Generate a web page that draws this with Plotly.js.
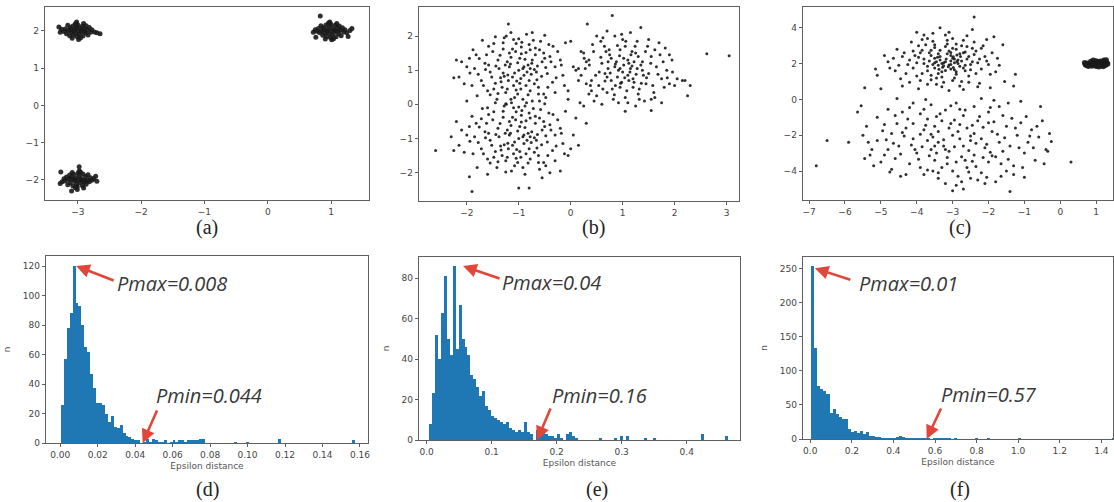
<!DOCTYPE html>
<html><head><meta charset="utf-8">
<script src="https://cdn.plot.ly/plotly-3.0.1.min.js"></script>
<style>html,body{margin:0;padding:0;background:#fff}#chart{width:1114px;height:502px}</style>
</head><body><div id="chart"></div>
<script>
// ---------- (a) three tight clusters ----------
const aCluster1 = [[-3.00,2.00],[-3.05,2.04],[-2.95,1.97],[-3.10,1.95],[-2.90,2.06],[-3.02,2.10],[-2.98,1.90],[-3.12,2.08],[-2.88,1.94],[-3.07,1.88],[-2.93,2.12],[-3.15,2.01],[-2.85,2.02],[-3.03,1.93],[-2.97,2.07],[-3.08,2.13],[-2.92,1.86],[-3.18,1.92],[-2.82,2.09],[-3.00,2.16],[-3.01,1.84],[-3.20,2.05],[-2.80,1.96],[-3.13,1.87],[-2.87,2.14],[-3.06,1.99],[-2.94,2.01],[-3.22,1.98],[-2.78,2.03],[-3.04,2.19],[-2.96,1.81],[-3.16,2.15],[-2.84,1.89],[-3.26,2.04],[-2.74,1.97],[-3.09,1.80],[-2.91,2.20],[-2.70,1.95],[-3.28,1.96],[-3.02,2.24],[-2.99,1.77],[-3.11,2.02],[-2.89,1.99],[-2.65,1.92],[-3.30,2.10]];
const aCluster2 = [[1.00,2.00],[0.95,2.05],[1.05,1.96],[0.90,1.94],[1.10,2.07],[0.98,2.12],[1.02,1.88],[0.88,2.09],[1.12,1.92],[0.93,1.85],[1.07,2.15],[0.85,2.00],[1.15,2.02],[0.97,1.93],[1.03,2.06],[0.92,2.16],[1.08,1.84],[0.82,1.95],[1.18,2.08],[1.00,2.18],[0.99,1.82],[0.80,2.06],[1.20,1.97],[0.87,1.88],[1.13,2.13],[0.94,1.99],[1.06,2.01],[0.78,1.99],[1.22,2.03],[0.96,2.21],[1.04,1.79],[0.84,2.14],[1.16,1.87],[0.75,2.03],[1.25,1.95],[0.91,1.78],[1.09,2.20],[1.30,2.01],[0.72,1.96],[0.98,2.24],[1.01,1.76],[0.89,2.02],[1.11,1.99],[1.27,1.85],[0.83,2.40],[1.33,2.06],[0.76,1.83]];
const aCluster3 = [[-3.00,-2.00],[-2.95,-1.96],[-3.05,-2.04],[-2.90,-2.06],[-3.10,-1.93],[-2.98,-1.88],[-3.02,-2.12],[-2.88,-1.91],[-3.12,-2.08],[-2.93,-2.15],[-3.07,-1.85],[-2.85,-2.00],[-3.15,-1.98],[-2.97,-2.07],[-3.03,-1.94],[-2.92,-1.84],[-3.08,-2.16],[-2.82,-2.05],[-3.18,-1.92],[-3.00,-1.82],[-3.01,-2.18],[-2.80,-1.94],[-3.20,-2.03],[-2.87,-2.12],[-3.13,-1.87],[-2.94,-2.01],[-3.06,-1.99],[-2.78,-2.01],[-3.22,-1.97],[-2.96,-1.79],[-3.04,-2.21],[-2.84,-1.86],[-3.16,-2.13],[-2.75,-1.97],[-3.25,-2.05],[-2.91,-2.22],[-3.09,-1.80],[-2.70,-2.04],[-3.28,-2.10],[-2.98,-1.76],[-3.01,-2.26],[-3.11,-1.98],[-2.89,-2.01],[-3.27,-1.79],[-2.98,-1.65],[-3.10,-2.30],[-2.72,-1.90]];

// ---------- (b) three overlapping clusters ----------
const bCluster1 = [[-1.00,1.00],[-0.82,1.15],[-1.21,0.86],[-0.65,0.72],[-1.40,1.30],[-0.95,1.48],[-1.10,0.55],[-0.55,1.25],[-1.55,0.95],[-0.78,0.40],[-1.30,1.62],[-0.90,0.85],[-1.18,1.10],[-0.70,1.02],[-1.45,0.62],[-0.60,1.60],[-1.05,1.78],[-1.65,1.20],[-0.45,0.90],[-1.25,0.35],[-0.88,1.32],[-1.35,0.78],[-0.72,1.88],[-1.72,0.70],[-0.40,1.40],[-1.08,0.20],[-1.50,1.55],[-0.98,0.62],[-0.62,0.50],[-1.28,1.95],[-1.85,1.05],[-0.30,1.10],[-0.85,2.05],[-1.60,0.40],[-1.15,1.38],[-0.52,0.30],[-1.95,1.35],[-0.80,0.70],[-1.38,1.05],[-1.02,1.22],[-0.68,1.45],[-1.20,0.70],[-0.92,0.15],[-1.48,1.78],[-0.35,0.65],[-1.78,0.88],[-1.12,1.62],[-0.58,1.85],[-2.05,0.60],[-0.25,1.55],[-1.32,0.50],[-0.75,1.20],[-1.62,1.45],[-0.48,0.20],[-1.05,0.42],[-0.95,1.68],[-1.88,1.60],[-0.15,0.85],[-1.42,0.15],[-0.66,0.95],[-2.10,1.25],[-1.22,1.25],[-0.86,0.55],[-1.55,0.28],[-0.42,1.75],[-1.00,1.92],[-1.70,1.88],[-0.20,1.30],[-1.25,0.02],[-0.78,1.60],[-2.15,0.80],[-0.60,0.10],[-1.15,2.10],[-1.80,0.25],[0.05,1.10],[-0.50,2.02],[-1.45,1.98],[-2.20,1.30],[-0.30,0.35],[-1.90,0.55],[0.15,0.70],[-0.10,1.80],[-1.60,-0.10],[-0.88,-0.05],[-2.25,0.78],[-1.20,2.35],[-0.05,0.40],[-0.92,1.05],[-1.08,0.92],[-0.84,0.95],[-1.16,1.18],[-0.74,1.30],[-1.30,0.92],[-0.96,0.76]];
const bCluster1More = [[-0.90,1.10],[-1.12,0.80],[-0.76,0.88],[-1.26,1.15],[-0.98,1.35],[-1.04,0.68],[-0.64,1.12],[-1.34,0.66],[-0.86,1.52],[-1.44,1.12],[-0.56,0.82],[-1.18,1.50],[-0.70,0.60],[-1.52,0.80],[-0.82,0.28],[-1.36,1.44],[-0.48,1.08],[-1.10,1.90],[-1.64,1.02],[-0.38,1.25],[-1.22,0.45],[-0.94,1.82],[-1.76,1.34],[-0.52,1.50],[-1.40,0.32],[-0.74,2.10],[-1.58,1.70],[-0.28,0.78],[-1.94,0.92],[-0.62,0.30],[-1.02,0.30],[-1.30,1.80],[-0.44,0.50],[-1.68,0.55],[-0.34,1.70],[-1.14,0.05],[-0.80,1.75],[-1.82,1.45],[-0.18,1.15],[-1.48,0.45],[-0.68,1.65],[-2.00,1.10],[-0.12,0.55],[-1.24,2.00],[-0.96,0.45],[-1.58,1.15],[-0.50,1.35],[-1.06,1.55],[-0.78,1.05],[-1.28,0.82]];
const bCluster2 = [[1.00,0.95],[0.85,1.10],[1.20,0.75],[0.70,0.80],[1.35,1.15],[0.95,0.50],[1.10,1.30],[0.60,1.20],[1.50,0.90],[0.80,0.45],[1.25,1.50],[0.90,0.80],[1.15,1.05],[0.55,0.95],[1.45,0.60],[0.75,1.45],[1.05,1.70],[1.65,1.10],[0.40,0.70],[1.30,0.30],[0.88,1.25],[1.40,0.85],[0.65,1.70],[1.75,0.75],[0.35,1.30],[1.05,0.20],[1.55,1.40],[0.98,0.65],[0.62,0.45],[1.28,1.85],[1.85,1.00],[0.28,1.05],[0.85,2.00],[1.60,0.35],[1.12,1.20],[0.50,0.25],[1.95,1.30],[0.78,0.70],[1.38,1.00],[1.02,1.15],[0.68,1.55],[1.22,0.65],[0.92,0.05],[1.48,1.70],[0.38,0.55],[1.80,0.50],[1.18,1.55],[0.58,1.85],[2.05,0.75],[0.25,1.50],[1.32,0.45],[0.72,1.05],[1.62,1.60],[0.45,0.10],[1.08,0.40],[0.95,1.60],[1.90,1.45],[0.20,0.85],[1.42,0.10],[0.66,0.90],[2.15,0.70],[1.22,1.25],[0.86,0.55],[1.55,0.15],[0.42,1.75],[1.00,1.90],[1.70,1.80],[0.30,1.25],[1.25,-0.05],[0.78,1.35],[2.25,0.25],[0.60,0.00],[1.15,2.10],[1.75,0.05],[0.15,1.05],[0.50,2.00],[1.35,2.25],[2.20,0.70],[0.35,0.30],[1.90,0.60],[0.80,2.60],[1.05,-0.20],[1.55,-0.18],[0.70,2.15],[1.30,1.40],[0.95,1.05],[1.10,0.85],[0.00,1.85],[0.20,1.55],[0.10,1.00],[0.32,2.35],[-0.05,0.15],[0.18,0.05],[0.30,-0.55],[0.25,-0.05],[2.62,1.48],[3.05,1.42],[2.30,0.55]];
const bCluster2More = [[0.92,1.00],[1.12,0.70],[0.76,0.92],[1.28,1.05],[1.02,1.35],[0.96,0.62],[1.38,1.25],[0.66,0.68],[1.16,1.45],[0.84,0.28],[1.46,0.78],[0.58,1.38],[1.20,0.50],[0.74,1.60],[1.54,1.20],[0.48,0.85],[1.06,1.85],[1.68,0.88],[0.36,1.15],[1.32,0.15],[0.90,1.72],[1.58,0.55],[0.54,0.55],[1.24,1.70],[1.78,1.25],[0.44,1.55],[1.10,0.05],[1.72,1.45],[0.30,0.60],[1.44,1.55],[0.82,0.15],[1.86,0.78],[0.62,1.95],[1.36,0.62],[1.96,0.95],[0.26,1.35],[1.50,1.90],[0.70,0.35],[1.62,0.20],[0.98,2.05],[1.82,1.65],[0.40,0.40],[2.00,0.55],[1.14,0.95],[0.86,1.18],[1.26,0.88],[0.72,1.25],[1.04,0.78],[0.94,1.42],[1.18,1.12]];
const bCluster3 = [[-1.00,-1.00],[-0.82,-0.85],[-1.21,-1.14],[-0.65,-1.28],[-1.40,-0.70],[-0.95,-0.52],[-1.10,-1.45],[-0.55,-0.75],[-1.55,-1.05],[-0.78,-1.60],[-1.30,-0.38],[-0.90,-1.15],[-1.18,-0.90],[-0.70,-0.98],[-1.45,-1.38],[-0.60,-0.40],[-1.05,-0.22],[-1.65,-0.80],[-0.45,-1.10],[-1.25,-1.65],[-0.88,-0.68],[-1.35,-1.22],[-0.72,-0.12],[-1.72,-1.30],[-0.40,-0.60],[-1.08,-1.80],[-1.50,-0.45],[-0.98,-1.38],[-0.62,-1.50],[-1.28,-0.05],[-1.85,-0.95],[-0.30,-0.90],[-0.85,0.05],[-1.60,-1.60],[-1.15,-0.62],[-0.52,-1.70],[-1.95,-0.65],[-0.80,-1.30],[-1.38,-0.95],[-1.02,-0.78],[-0.68,-0.55],[-1.20,-1.30],[-0.92,-1.85],[-1.48,-0.22],[-0.35,-1.35],[-1.78,-1.12],[-1.12,-0.38],[-0.58,-0.15],[-2.05,-1.40],[-0.25,-0.45],[-1.32,-1.50],[-0.75,-0.80],[-1.62,-0.55],[-0.48,-1.80],[-1.05,-1.58],[-0.95,-0.32],[-1.88,-1.45],[-0.15,-1.15],[-1.42,-1.85],[-0.66,-1.05],[-2.10,-0.75],[-1.22,-0.75],[-0.86,-1.45],[-1.55,-1.72],[-0.42,-0.25],[-1.00,-0.08],[-1.70,-0.12],[-0.20,-0.70],[-1.25,-1.98],[-0.78,-0.40],[-2.15,-1.20],[-0.60,-1.90],[-1.15,0.15],[-1.80,-1.85],[0.05,-0.90],[-0.50,0.02],[-1.45,0.05],[-2.20,-0.50],[-0.30,-1.65],[-1.90,-0.35],[0.15,-1.20],[-0.10,-0.20],[-1.60,-2.05],[-0.88,-2.05],[-2.25,-1.35],[-1.95,-2.12],[-0.05,-1.50],[-1.00,-2.45],[-0.80,-2.45],[-1.90,-2.55],[-2.60,-1.35],[-2.30,-0.95],[-0.55,-2.15],[0.10,-0.40],[-1.72,-0.42],[-2.00,0.10],[-0.92,-0.95],[-1.08,-1.10],[-0.84,-1.05],[-1.16,-0.85]];
const bCluster3More = [[-0.90,-0.90],[-1.12,-1.20],[-0.76,-1.12],[-1.26,-0.85],[-0.98,-0.65],[-1.04,-1.32],[-0.64,-0.88],[-1.34,-1.34],[-0.86,-0.48],[-1.44,-0.88],[-0.56,-1.18],[-1.18,-0.50],[-0.70,-1.40],[-1.52,-1.20],[-0.82,-1.72],[-1.36,-0.56],[-0.48,-0.92],[-1.10,-0.10],[-1.64,-0.98],[-0.38,-0.75],[-1.22,-1.55],[-0.94,-0.18],[-1.76,-0.66],[-0.52,-0.50],[-1.40,-1.68],[-0.74,0.10],[-1.58,-0.30],[-0.28,-1.22],[-1.94,-1.08],[-0.62,-1.70],[-1.02,-1.70],[-1.30,-0.20],[-0.44,-1.50],[-1.68,-1.45],[-0.34,-0.30],[-1.14,-1.95],[-0.80,-0.25],[-1.82,-0.55],[-0.18,-0.85],[-1.48,-1.55],[-0.68,-0.35],[-2.00,-0.90],[-0.12,-1.45],[-1.24,0.00],[-0.96,-1.55],[-1.58,-0.85],[-0.50,-0.65],[-1.06,-0.45],[-0.78,-0.95],[-1.28,-1.18],[-0.20,-1.95],[0.00,-1.30],[-0.40,-2.00]];

// ---------- (c) sparse clouds + tight blob ----------
const cUpper = [[-3.20,2.10],[-3.00,2.30],[-3.40,1.90],[-2.80,1.85],[-3.60,2.45],[-3.10,2.70],[-3.30,1.55],[-2.60,2.25],[-3.80,2.00],[-2.90,1.40],[-3.50,2.90],[-3.05,1.95],[-3.35,2.20],[-2.70,2.60],[-3.70,1.60],[-2.50,1.95],[-3.15,3.10],[-3.95,2.35],[-2.40,2.50],[-3.45,1.20],[-2.95,2.05],[-3.65,2.15],[-2.75,3.00],[-4.10,1.75],[-2.30,2.05],[-3.25,0.95],[-3.85,2.75],[-3.05,2.45],[-2.65,1.60],[-3.55,3.25],[-4.20,2.20],[-2.20,1.70],[-3.00,3.40],[-4.00,1.30],[-3.30,2.00],[-2.55,1.30],[-4.35,2.60],[-2.85,2.20],[-3.50,1.75],[-3.12,1.82],[-2.90,2.80],[-3.42,2.35],[-3.00,1.05],[-3.75,3.05],[-2.45,2.85],[-4.05,2.45],[-3.40,2.55],[-2.70,3.30],[-4.50,1.90],[-2.10,2.40],[-3.60,1.35],[-2.95,1.65],[-3.90,1.05],[-2.35,1.45],[-3.20,3.60],[-4.30,1.45],[-2.60,3.55],[-3.85,3.35],[-2.15,3.00],[-3.30,0.70],[-4.55,2.80],[-2.00,1.95],[-3.70,0.85],[-2.80,0.75],[-4.65,2.30],[-1.90,2.60],[-3.10,0.50],[-4.75,1.75],[-2.25,0.90],[-3.55,3.70],[-2.45,3.90],[-4.15,3.20],[-1.80,1.55],[-4.45,1.15],[-2.05,3.35],[-3.95,0.60],[-2.40,4.60],[-1.75,2.30],[-5.15,1.70],[-4.90,2.45],[-1.55,1.00],[-5.10,1.35],[-1.95,0.65],[-4.40,0.75],[-1.60,3.05],[-2.70,0.55],[-3.35,4.00],[-3.50,2.05],[-3.25,1.88],[-2.88,2.12],[-3.18,2.25],[-2.98,1.78],[-3.05,2.62],[-3.38,1.68],[-2.78,2.40],[-1.25,1.40],[-1.30,0.75],[-5.45,0.65],[-5.00,0.60],[-2.55,0.95],[-1.85,3.50],[-4.00,3.75],[-3.80,3.60],[-2.90,3.10]];
const cUpperMore = [[-3.25,2.05],[-3.10,1.92],[-2.95,2.25],[-3.45,2.10],[-2.85,2.00],[-3.35,2.40],[-3.05,1.70],[-2.75,2.15],[-3.55,1.95],[-3.15,2.55],[-2.65,1.90],[-3.65,2.60],[-2.90,1.55],[-3.40,1.45],[-2.55,2.40],[-3.80,2.25],[-3.00,2.85],[-2.45,2.10],[-3.70,1.85],[-3.20,2.95],[-2.35,2.70],[-3.90,2.60],[-2.80,2.55],[-3.50,3.05],[-2.60,2.95],[-4.00,2.05],[-3.30,1.25],[-2.25,2.25],[-4.10,2.70],[-2.95,1.20],[-3.60,1.10],[-2.50,1.65],[-3.85,1.45],[-2.20,2.85],[-4.25,1.95],[-3.15,3.30],[-2.40,3.20],[-3.95,3.00],[-2.05,2.15],[-4.40,2.40],[-3.45,0.85],[-2.75,1.00],[-3.70,3.40],[-1.95,1.40],[-4.60,1.60],[-2.30,0.70],[-3.10,3.75],[-4.20,0.95],[-1.70,1.90],[-4.80,2.10],[-3.35,2.75],[-2.65,2.65],[-3.05,2.15],[-3.28,1.80],[-2.88,2.48],[-3.50,2.30],[-2.70,1.75],[-3.20,1.62],[-2.98,2.38],[-3.60,2.75]];
const cLower = [[-3.00,-2.00],[-2.60,-1.60],[-3.40,-2.40],[-2.20,-2.20],[-3.80,-1.70],[-3.10,-2.90],[-2.70,-0.90],[-3.60,-2.80],[-2.40,-3.10],[-3.30,-1.20],[-1.90,-1.80],[-4.10,-2.20],[-2.90,-3.50],[-3.70,-1.10],[-2.10,-2.70],[-4.30,-1.60],[-2.50,-2.30],[-3.20,-0.60],[-1.70,-2.40],[-4.00,-3.00],[-2.80,-1.40],[-3.50,-3.40],[-2.30,-1.20],[-4.50,-2.60],[-1.50,-1.50],[-3.90,-0.80],[-2.60,-3.80],[-3.40,-1.80],[-1.80,-3.20],[-4.70,-1.90],[-2.00,-0.70],[-3.00,-4.00],[-4.20,-3.60],[-1.40,-2.60],[-3.60,-0.30],[-2.70,-2.60],[-4.80,-2.80],[-1.60,-0.90],[-3.30,-3.80],[-2.20,-4.10],[-4.40,-0.70],[-1.20,-2.00],[-3.80,-4.20],[-2.90,-0.20],[-4.90,-1.40],[-1.00,-3.00],[-3.50,-1.50],[-2.40,-0.40],[-5.10,-2.30],[-1.30,-3.70],[-3.70,-2.30],[-2.00,-3.50],[-4.60,-3.30],[-1.10,-1.30],[-3.20,-4.70],[-2.50,-4.40],[-5.30,-3.10],[-0.90,-2.40],[-4.10,-0.20],[-1.80,-4.60],[-5.50,-2.00],[-0.80,-1.70],[-3.90,-3.80],[-2.70,-5.00],[-5.20,-3.70],[-0.70,-3.40],[-4.60,-0.90],[-1.50,-4.00],[-5.40,-1.50],[-0.60,-2.10],[-3.40,-4.40],[-2.10,-4.70],[-4.70,-3.90],[-1.30,-4.20],[-5.00,-3.50],[-0.50,-1.20],[-4.30,-4.20],[-1.70,-0.40],[-5.10,-1.00],[-0.40,-2.80],[-3.10,-1.60],[-2.80,-2.20],[-3.50,-2.60],[-2.40,-1.90],[-3.75,-1.45],[-2.55,-2.85],[-3.25,-2.25],[-2.15,-1.55],[-4.15,-2.55],[-1.95,-2.95],[-3.85,-2.65],[-2.75,-3.20],[-3.15,-3.25],[-2.35,-2.45],[-4.35,-2.05],[-1.85,-1.25],[-3.65,-3.15],[-2.95,-1.15],[-4.55,-1.35],[-1.55,-2.15],[-3.45,-0.95],[-2.65,-0.60],[-4.85,-2.25],[-1.25,-1.60],[-2.85,-4.30],[-3.95,-3.35],[-1.65,-3.60],[-4.25,-1.10],[-0.95,-0.95],[-3.05,-0.35],[-5.65,-0.70],[-0.55,-0.40],[-1.10,-0.10],[-4.80,-0.55],[-2.20,0.05],[-3.75,0.00],[-1.45,-0.20],[-0.30,-1.90],[-0.45,-3.60],[-1.40,-5.15],[-2.05,-4.35],[-3.55,-4.00],[-4.45,-4.30],[-2.90,-4.80],[-1.05,-3.80],[-4.90,-3.10],[-5.25,-2.80],[-0.75,-2.70],[-2.45,-3.45],[-1.90,-3.15],[-6.80,-3.70],[-6.50,-2.30],[-5.90,-2.40],[0.30,-3.50],[-0.35,-2.90],[-5.55,-0.35]];
const cLowerMore = [[-2.85,-1.80],[-3.25,-2.60],[-2.45,-1.45],[-3.55,-2.10],[-2.05,-2.50],[-3.90,-1.95],[-2.65,-3.40],[-3.35,-0.80],[-2.25,-0.95],[-4.05,-2.80],[-1.75,-1.95],[-3.15,-3.60],[-2.55,-4.05],[-4.40,-1.85],[-1.60,-2.90],[-3.70,-3.95],[-2.95,-2.65],[-4.20,-0.45],[-1.35,-1.05],[-2.35,-3.75],[-3.45,-3.00],[-1.95,-0.45],[-4.65,-2.45],[-1.15,-2.70],[-3.80,-0.55],[-2.75,-4.60],[-4.95,-1.75],[-0.85,-2.05],[-3.05,-1.35],[-2.15,-3.25],[-4.45,-3.05],[-1.45,-3.35],[-3.60,-1.95],[-2.50,-2.05],[-3.20,-2.80],[-2.00,-1.30],[-4.10,-1.35],[-1.65,-4.30],[-3.40,-4.10],[-2.80,-0.55],[-5.35,-2.40],[-0.65,-1.50],[-4.75,-4.05],[-2.30,-4.50],[-1.00,-4.35],[-3.00,-5.10],[-0.25,-2.35],[-5.45,-3.30],[-1.85,-0.05],[-4.55,0.05]];
const cBlob = [[1.00,2.00],[0.90,2.05],[1.10,1.95],[0.80,1.98],[1.20,2.03],[0.95,1.90],[1.05,2.10],[0.85,2.12],[1.15,1.88],[0.75,2.02],[1.25,1.96],[1.00,2.15],[1.00,1.85],[0.70,1.95],[1.30,2.05],[0.88,1.87],[1.12,2.13],[0.93,2.08],[1.07,1.93],[0.82,1.92],[1.18,2.10],[0.97,1.97],[1.03,2.03],[0.68,2.05],[1.32,1.98],[1.22,2.18],[1.28,2.20],[0.78,1.85],[1.20,1.84],[0.92,2.18],[1.08,1.82],[0.86,2.00],[1.14,2.00],[0.72,1.90],[1.26,1.90]];

// ---------- histograms (100 bins each) ----------
const dBinStart = 0.0003, dBinWidth = 0.00157;
const dCounts = [26,57,78,88,120,95,93,80,65,62, 47,37,27,27,26,20,14,18,11,10, 12,7,5,4,3,2,2,0,1,3, 1,3,2,1,1,2,0,1,2,1, 2,2,1,2,2,2,2,3,3,0, 0,0,0,0,0,0,0,0,0,1, 0,0,0,1,0,0,0,0,0,0, 0,0,0,0,3,0,0,0,0,0, 0,0,0,0,0,0,0,0,0,0, 0,0,0,0,0,0,0,0,0,2];
const eBinStart = 0.003, eBinWidth = 0.0046;
const eCounts = [8,23,52,40,63,81,50,42,86,45, 67,50,46,42,32,30,26,22,24,17, 15,12,11,10,9,8,9,6,5,4, 5,4,9,4,3,0,5,6,4,3, 2,2,1,3,1,0,3,4,2,1, 0,0,0,0,0,0,0,1,0,0, 0,0,1,0,2,0,2,0,0,0, 0,0,1,0,0,1,0,0,0,0, 0,0,0,0,0,0,0,0,0,0, 0,3,0,0,0,0,0,0,0,2];
const fBinStart = 0.005, fBinWidth = 0.0146;
const fCounts = [254,134,78,74,70,66,38,44,37,32, 30,29,15,10,12,9,12,8,11,5, 4,3,3,2,2,1,2,2,3,4, 3,2,2,1,2,1,1,2,1,0, 1,1,2,1,1,1,0,1,0,0, 0,0,0,0,1,0,0,0,1,0, 0,0,0,0,0,0,0,0,1,0, 0,0,0,0,0,0,0,0,0,0, 0,0,0,0,0,0,0,0,0,0, 0,0,0,0,0,0,0,0,0,1];

// ---------- labels ----------
const panelLabels = ['(a)','(b)','(c)','(d)','(e)','(f)'];
const pmaxLabels = ['Pmax=0.008','Pmax=0.04','Pmax=0.01'];
const pminLabels = ['Pmin=0.044','Pmin=0.16','Pmin=0.57'];
const xTitle = 'Epsilon distance';
const yTitle = 'n';

// ---------- build ----------
const dotColor = '#1a1a1a';
function scat(clusters, xa, ya, size){
  const pts = [].concat(...clusters);
  return {type:'scatter', mode:'markers', x: pts.map(p=>p[0]), y: pts.map(p=>p[1]),
    xaxis: xa, yaxis: ya, marker:{size:size, color:dotColor, opacity:0.9}, hoverinfo:'skip'};
}
function hist(start, w, counts, xa, ya){
  return {type:'bar', x: counts.map((c,i)=>start+(i+0.5)*w), y: counts, width: w,
    xaxis: xa, yaxis: ya, marker:{color:'#1f77b4', line:{width:0}}, hoverinfo:'skip'};
}
const traces = [
  scat([aCluster1,aCluster2,aCluster3],'x','y',5),
  scat([bCluster1,bCluster1More,bCluster2,bCluster2More,bCluster3,bCluster3More],'x2','y2',3),
  scat([cUpper,cUpperMore,cLower,cLowerMore],'x3','y3',3),
  scat([cBlob],'x3','y3',5.5),
  hist(dBinStart,dBinWidth,dCounts,'x4','y4'),
  hist(eBinStart,eBinWidth,eCounts,'x5','y5'),
  hist(fBinStart,fBinWidth,fCounts,'x6','y6')
];

const W=1114, H=502;
const tickFont = {family:'DejaVu Sans, sans-serif', size:9, color:'#444'};
function ax(anchor, domainPx, range, dtick, fmt, extra){
  return Object.assign({anchor:anchor, domain:[domainPx[0]/W, domainPx[1]/W], range:range, autorange:false,
    dtick:dtick, tick0:0, tickformat:fmt, showgrid:false, zeroline:false, showline:true, mirror:true,
    linecolor:'#606060', linewidth:1.3, ticks:'outside', ticklen:3, tickcolor:'#606060',
    tickfont:tickFont, fixedrange:true}, extra||{});
}
function ay(anchor, domainPx, range, dtick, extra){
  return Object.assign({anchor:anchor, domain:[1-domainPx[1]/H, 1-domainPx[0]/H], range:range, autorange:false,
    dtick:dtick, tick0:0, showgrid:false, zeroline:false, showline:true, mirror:true,
    linecolor:'#606060', linewidth:1.3, ticks:'outside', ticklen:3, tickcolor:'#606060',
    tickfont:tickFont, fixedrange:true}, extra||{});
}
const axTitleFont = {family:'DejaVu Sans, sans-serif', size:9, color:'#555'};
const xt = {title:{text:xTitle, font:axTitleFont, standoff:3}};
const yt = {title:{text:yTitle, font:axTitleFont, standoff:10}};

const layout = {
  width:W, height:H, margin:{l:0,r:0,t:0,b:0}, paper_bgcolor:'#fff', plot_bgcolor:'#fff',
  showlegend:false, bargap:0,
  xaxis:  ax('y',[45,369],[-3.52,1.6],1,''),
  yaxis:  ay('x',[7,200],[-2.54,2.64],1),
  xaxis2: ax('y2',[419,739],[-2.92,3.24],1,''),
  yaxis2: ay('x2',[7,201],[-2.83,2.85],1),
  xaxis3: ax('y3',[803,1113],[-7.17,1.47],1,''),
  yaxis3: ay('x3',[7,200],[-5.62,5.16],2),
  xaxis4: ax('y4',[46,368],[-0.0076,0.1643],0.02,'.2f',xt),
  yaxis4: ay('x4',[256,443],[0,126.8],20,yt),
  xaxis5: ax('y5',[419,740],[-0.0118,0.482],0.1,'.1f',xt),
  yaxis5: ay('x5',[257,440],[0,90.5],20,yt),
  xaxis6: ax('y6',[803,1113],[-0.035,1.456],0.2,'.1f',xt),
  yaxis6: ay('x6',[257,439],[0,267.6],50,yt),
  annotations: []
};

// panel labels
const labelPos = [[207,227],[593,227],[960,227],[207,489],[597,489],[960,489]];
panelLabels.forEach((t,i)=>layout.annotations.push({text:t, xref:'paper', yref:'paper',
  x:labelPos[i][0]/W, y:1-labelPos[i][1]/H, xanchor:'center', yanchor:'middle', showarrow:false,
  font:{family:'Liberation Serif, serif', size:20, color:'#222'}}));

// Pmax / Pmin text + arrows
const pFont = {family:'Open Sans, Noto Sans, sans-serif', size:20, color:'#383838', style:'italic'};
const textPos = [[[172,283],[209,395]], [[551,282],[599,395]], [[908,283],[989,394]]];
textPos.forEach((pp,i)=>{
  layout.annotations.push({text:'<i>'+pmaxLabels[i]+'</i>', xref:'paper', yref:'paper', x:pp[0][0]/W, y:1-pp[0][1]/H,
    xanchor:'center', yanchor:'middle', showarrow:false, font:pFont});
  layout.annotations.push({text:'<i>'+pminLabels[i]+'</i>', xref:'paper', yref:'paper', x:pp[1][0]/W, y:1-pp[1][1]/H,
    xanchor:'center', yanchor:'middle', showarrow:false, font:pFont});
});
const arrowStyle = {showarrow:true, arrowhead:2, arrowsize:1.05, arrowwidth:2.6, arrowcolor:'#e2463a', text:''};
const arrows = [
  {xref:'x4', yref:'y4', x:0.0085, y:120, ax:39, ay:15},
  {xref:'x4', yref:'y4', x:0.044, y:0, ax:15, ay:-34},
  {xref:'x5', yref:'y5', x:0.056, y:86, ax:38, ay:13},
  {xref:'x5', yref:'y5', x:0.17, y:0, ax:14, ay:-33},
  {xref:'x6', yref:'y6', x:0.022, y:251, ax:37, ay:12},
  {xref:'x6', yref:'y6', x:0.56, y:0, ax:15, ay:-32}
];
arrows.forEach(a=>layout.annotations.push(Object.assign({}, arrowStyle, a)));

Plotly.newPlot('chart', traces, layout, {staticPlot:true, displayModeBar:false});
</script>
</body></html>
